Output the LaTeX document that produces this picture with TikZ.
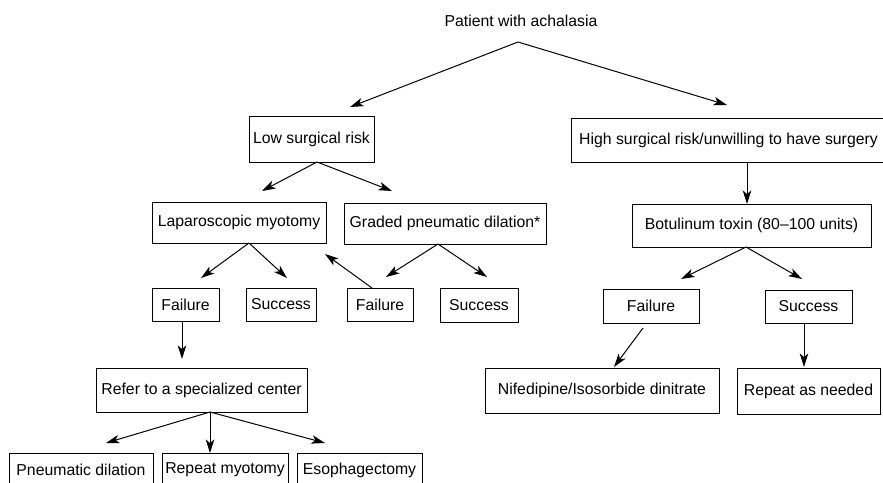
\documentclass[tikz,border=0pt]{standalone}
\usepackage{fontspec}
\setmainfont{Liberation Sans}
\usetikzlibrary{arrows.meta}
\begin{document}
\begin{tikzpicture}[x=1pt,y=-1pt,
  every node/.style={font=\fontsize{15.8}{19}\selectfont, inner sep=0pt},
  box/.style={draw, line width=0.9pt, align=center},
  arr/.style={line width=1pt, -{Stealth[length=13.5pt,width=8.5pt,inset=3.5pt]}}]
\useasboundingbox (0,0) rectangle (883,482);

% title and first split
\node (title) at (521,21) {Patient with achalasia};
\coordinate (apex) at (518,42);

% left branch: low surgical risk
\node[box, minimum width=125pt, minimum height=46pt] (low) at (311.5,139) {Low surgical risk};
\node[box, minimum width=174pt, minimum height=41pt] (lap) at (239,222.5) {Laparoscopic myotomy};
\node[box, minimum width=202pt, minimum height=41pt] (gpd) at (445,223.5) {Graded pneumatic dilation*};
\node[box, minimum width=67pt, minimum height=33pt] (failL) at (185.5,304.5) {Failure};
\node[box, minimum width=70pt, minimum height=33pt] (succL) at (281,304.5) {Success};
\node[box, minimum width=66pt, minimum height=33pt] (failM) at (380,304.5) {Failure};
\node[box, minimum width=78pt, minimum height=34pt] (succM) at (479,305) {Success};
\node[box, minimum width=211pt, minimum height=44pt] (refer) at (201.5,390) {Refer to a specialized center};
\node[box, minimum width=144pt, minimum height=34pt] (pneu) at (81,470) {Pneumatic dilation};
\node[box, minimum width=126pt, minimum height=34pt] (remyo) at (225,470) {Repeat myotomy};
\node[box, minimum width=125pt, minimum height=34pt] (eso) at (359.5,470) {Esophagectomy};

% right branch: high surgical risk
\node[box, minimum width=315pt, minimum height=44pt] (high) at (728.5,140) {High surgical risk/unwilling to have surgery};
\node[box, minimum width=239pt, minimum height=43pt] (botox) at (751.5,225.5) {Botulinum toxin (80--100 units)};
\node[box, minimum width=96pt, minimum height=34pt] (failR) at (651,306) {Failure};
\node[box, minimum width=87pt, minimum height=33pt] (succR) at (808.5,306.5) {Success};
\node[box, minimum width=234pt, minimum height=45pt] (nif) at (602,390.5) {Nifedipine/Isosorbide dinitrate};
\node[box, minimum width=143pt, minimum height=46pt] (rep) at (808.5,391) {Repeat as needed};

% arrow end points
\coordinate (tLow) at (350,107);
\coordinate (tHigh) at (727,105);
\coordinate (fLow) at (317,162);
\coordinate (tLap) at (262,191);
\coordinate (tGpd) at (392,191);
\coordinate (fLap) at (249,243);
\coordinate (tFailL) at (201,278);
\coordinate (tSuccL) at (287,278);
\coordinate (sFailM) at (372,288);
\coordinate (tBack) at (325,254);
\coordinate (fGpd) at (438,244);
\coordinate (tFailM) at (386,277);
\coordinate (tSuccM) at (487,277);
\coordinate (sFailL) at (182,321);
\coordinate (tRefer) at (182,359);
\coordinate (fRefer) at (210,412);
\coordinate (tPneu) at (106,443);
\coordinate (tRemyo) at (210,453);
\coordinate (tEso) at (325,443);
\coordinate (sHigh) at (747,162);
\coordinate (tBotox) at (747,204);
\coordinate (fBotox) at (746,247);
\coordinate (tFailR) at (681,279);
\coordinate (tSuccR) at (802,279);
\coordinate (sFailR) at (643,328);
\coordinate (tNif) at (614,367);
\coordinate (sSuccR) at (804,324);
\coordinate (tRep) at (804,367);

% connectors
\draw[arr] (apex) -- (tLow);
\draw[arr] (apex) -- (tHigh);
\draw[arr] (fLow) -- (tLap);
\draw[arr] (fLow) -- (tGpd);
\draw[arr] (fLap) -- (tFailL);
\draw[arr] (fLap) -- (tSuccL);
\draw[arr] (sFailM) -- (tBack);
\draw[arr] (fGpd) -- (tFailM);
\draw[arr] (fGpd) -- (tSuccM);
\draw[arr] (sFailL) -- (tRefer);
\draw[arr] (fRefer) -- (tPneu);
\draw[arr] (fRefer) -- (tRemyo);
\draw[arr] (fRefer) -- (tEso);
\draw[arr] (sHigh) -- (tBotox);
\draw[arr] (fBotox) -- (tFailR);
\draw[arr] (fBotox) -- (tSuccR);
\draw[arr] (sFailR) -- (tNif);
\draw[arr] (sSuccR) -- (tRep);
\end{tikzpicture}
\end{document}
